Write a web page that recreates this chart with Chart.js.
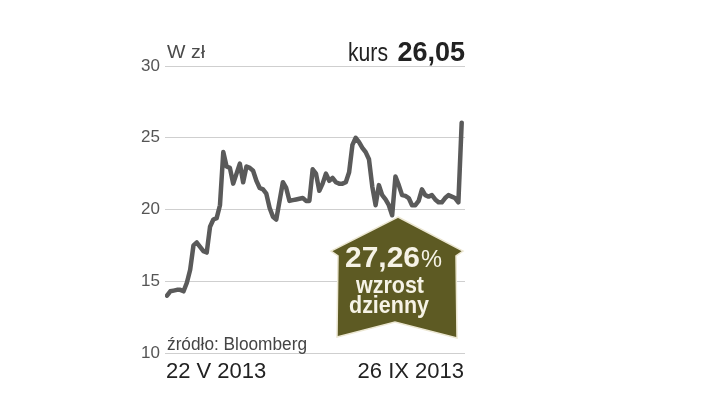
<!DOCTYPE html>
<html>
<head>
<meta charset="utf-8">
<script src="https://cdn.jsdelivr.net/npm/chart.js@4.4.0/dist/chart.umd.min.js"></script>
<style>
  html, body { margin: 0; padding: 0; background: #ffffff; }
  #wrap { position: relative; width: 720px; height: 405px; overflow: hidden; }
  #c { position: absolute; left: 0; top: 0; }
  #ov { position: absolute; left: 0; top: 0; pointer-events: none; }
</style>
</head>
<body>
<div id="wrap">
  <canvas id="c" width="720" height="405" style="width:720px;height:405px"></canvas>
  <svg id="ov" width="720" height="405" viewBox="0 0 720 405" xmlns="http://www.w3.org/2000/svg">
    <text x="167" y="58" font-family="Liberation Sans, Arial, sans-serif" font-size="19" fill="#4a4a4a" textLength="38" lengthAdjust="spacingAndGlyphs">W zł</text>
    <text x="348" y="61" fill="#222" font-family="Liberation Sans, Arial, sans-serif" font-size="26" textLength="40" lengthAdjust="spacingAndGlyphs">kurs</text>
    <text x="465" y="61" text-anchor="end" fill="#222" font-family="Liberation Sans, Arial, sans-serif" font-weight="bold" font-size="27">26,05</text>
    <text x="167" y="350" font-family="Liberation Sans, Arial, sans-serif" font-size="18" fill="#444" textLength="140" lengthAdjust="spacingAndGlyphs">źródło: Bloomberg</text>
    <text x="166" y="378" font-family="Liberation Sans, Arial, sans-serif" font-size="22" fill="#222">22 V 2013</text>
    <text x="464" y="378" text-anchor="end" font-family="Liberation Sans, Arial, sans-serif" font-size="22" fill="#222">26 IX 2013</text>
    <polygon points="398,217 463,251 456,256 457,338 395,322 337,337 338,256 331,251" fill="#5d5a23" stroke="#ece7d2" stroke-width="1.5" stroke-linejoin="miter"/>
    <text x="345" y="267" fill="#f6f3e6" font-family="Liberation Sans, Arial, sans-serif" font-weight="bold" font-size="30" textLength="75" lengthAdjust="spacingAndGlyphs">27,26</text>
    <text x="421" y="267" fill="#f6f3e6" font-family="Liberation Sans, Arial, sans-serif" font-size="24" textLength="21" lengthAdjust="spacingAndGlyphs">%</text>
    <text x="356" y="293" fill="#f6f3e6" font-family="Liberation Sans, Arial, sans-serif" font-weight="bold" font-size="23" textLength="68" lengthAdjust="spacingAndGlyphs">wzrost</text>
    <text x="349" y="313" fill="#f6f3e6" font-family="Liberation Sans, Arial, sans-serif" font-weight="bold" font-size="23" textLength="80" lengthAdjust="spacingAndGlyphs">dzienny</text>
  </svg>
</div>
<script>
// Trading-day index (22 V 2013 -> 26 IX 2013), closing prices in zł
const days = Array.from({length: 90}, (_, i) => i);
const prices = [
  14.0, 14.3, 14.35, 14.4, 14.4, 14.3, 14.9, 15.8, 17.5, 17.7,
  17.4, 17.1, 17.0, 18.8, 19.3, 19.4, 20.3, 24.0, 23.0, 22.9,
  21.8, 22.5, 23.2, 21.9, 23.0, 22.9, 22.7, 22.0, 21.5, 21.4,
  21.1, 20.1, 19.5, 19.3, 20.6, 21.9, 21.5, 20.6, 20.65, 20.7,
  20.75, 20.8, 20.6, 20.6, 22.8, 22.5, 21.3, 21.8, 22.5, 22.0,
  22.2, 21.9, 21.8, 21.8, 21.9, 22.6, 24.5, 25.0, 24.7, 24.3,
  24.0, 23.5, 21.6, 20.3, 21.7, 21.0, 20.7, 20.3, 19.6, 22.3,
  21.7, 21.0, 20.95, 20.8, 20.3, 20.3, 20.6, 21.4, 21.0, 20.9,
  21.0, 20.7, 20.5, 20.5, 20.8, 21.0, 20.9, 20.8, 20.5, 26.05
];
const yTicks = [10, 15, 20, 25, 30];

new Chart(document.getElementById('c'), {
  type: 'line',
  data: {
    datasets: [{
      data: days.map((d, i) => ({x: d, y: prices[i]})),
      borderColor: '#5a5a5a',
      borderWidth: 4.5,
      pointRadius: 0,
      tension: 0,
      borderJoinStyle: 'round',
      borderCapStyle: 'round',
      fill: false
    }]
  },
  options: {
    responsive: false,
    devicePixelRatio: 1,
    animation: false,
    layout: { padding: { left: 125, right: 255, top: 66, bottom: 52 } },
    plugins: { legend: { display: false }, tooltip: { enabled: false } },
    scales: {
      x: { type: 'linear', min: -0.6, max: 90, display: false },
      y: {
        min: 10, max: 30,
        afterBuildTicks: s => { s.ticks = yTicks.map(v => ({value: v})); },
        afterFit: s => { s.width = 40; },
        ticks: {
          color: '#555',
          padding: 5,
          font: { family: 'Liberation Sans, Arial, sans-serif', size: 17 }
        },
        grid: { color: '#cfcfcf', lineWidth: 1, drawTicks: false },
        border: { display: false }
      }
    }
  }
});
</script>
</body>
</html>
